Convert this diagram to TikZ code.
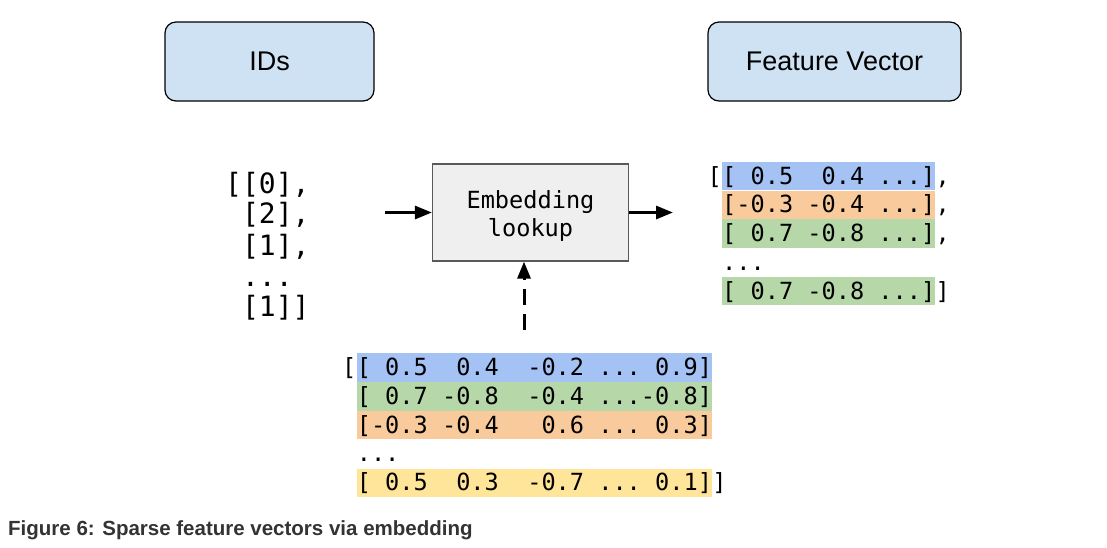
\documentclass[tikz,border=0pt]{standalone}
\usepackage{fontspec}
\setmainfont{Liberation Sans}
\newfontfamily\codefont{DejaVu Sans Mono}
\usetikzlibrary{positioning,arrows.meta}
\definecolor{boxblue}{HTML}{CFE2F3}
\definecolor{lookupgray}{HTML}{EFEFEF}
\definecolor{edgegray}{HTML}{595959}
\definecolor{rowblue}{HTML}{A4C2F4}
\definecolor{rowgreen}{HTML}{B6D7A8}
\definecolor{roworange}{HTML}{F9CB9C}
\definecolor{rowyellow}{HTML}{FFE599}
\definecolor{captiongray}{HTML}{333333}
\begin{document}
\begin{tikzpicture}[x=1pt,y=-1pt,
		title/.style={draw, line width=1.2pt, rounded corners=11pt, fill=boxblue, minimum width=#1, minimum height=79pt, font=\fontsize{27}{32}\selectfont},
		lookup/.style={draw=edgegray, line width=1.2pt, fill=lookupgray, minimum width=196pt, minimum height=97pt, align=center, font=\codefont\fontsize{23.6}{28.5}\selectfont},
		vec/.style={font=\codefont\fontsize{23.6}{28.4}\selectfont, inner sep=0pt, minimum height=28.4pt, text height=18pt, text depth=2pt},
		idline/.style={font=\codefont\fontsize{28}{30}\selectfont, inner sep=0pt, anchor=base west},
		flow/.style={line width=3pt, -{Triangle[length=17pt,width=13pt]}}]
		\useasboundingbox (0,0) rectangle (1107,547);

		\node[title=209pt] (idsbox) at (269.5, 61.5) {IDs};
		\node[title=253pt] (fvbox) at (834.5, 61.5) {Feature Vector};

		% ids
		\node[idline] (id1) at (225, 193) {[[0],};
		\node[idline] (id2) at (225, 223) {~[2],};
		\node[idline] (id3) at (225, 255) {~[1],};
		\node[idline] (id4) at (225, 286) {~...};
		\node[idline] (id5) at (225, 316) {~[1]]};

		\node[lookup] (emb) at (530.5, 212.5) {\rule{0pt}{25pt}Embedding\\lookup};

		% feature vectors
		\node[vec, fill=rowblue, anchor=west] (f1) at (722, 176) {[~0.5~~0.4~...]};
		\node[vec, fill=roworange, below=0pt of f1] (f2) {[-0.3~-0.4~...]};
		\node[vec, fill=rowgreen, below=0pt of f2] (f3) {[~0.7~-0.8~...]};
		\node[vec, anchor=north west] (f4) at (f3.south west) {...};
		\node[vec, fill=rowgreen, anchor=north west] (f5) at (f4.south west) {[~0.7~-0.8~...]};
		\node[vec, left=0pt of f1] (fopen) {[};
		\node[vec, right=0pt of f1] (c1) {,};
		\node[vec, right=0pt of f2] (c2) {,};
		\node[vec, right=0pt of f3] (c3) {,};
		\node[vec, right=0pt of f5] (fclose) {]};

		% embedding table
		\node[vec, fill=rowblue, anchor=west] (v1) at (356.6, 367.5) {[~0.5~~0.4~~-0.2~...~0.9]};
		\node[vec, fill=rowgreen, below=0pt of v1] (v2) {[~0.7~-0.8~~-0.4~...-0.8]};
		\node[vec, fill=roworange, below=0pt of v2] (v3) {[-0.3~-0.4~~~0.6~...~0.3]};
		\node[vec, anchor=north west] (v4) at (v3.south west) {...};
		\node[vec, fill=rowyellow, anchor=north west] (v5) at (v4.south west) {[~0.5~~0.3~~-0.7~...~0.1]};
		\node[vec, left=0pt of v1] (vopen) {[};
		\node[vec, right=0pt of v5] (vclose) {]};

		\coordinate (idsend) at (385, 212.5);
		\coordinate (fvstart) at (673, 212.5);
		\coordinate (tabletop) at (524, 330);
		\draw[flow] (idsend) -- (emb.west);
		\draw[flow] (emb.east) -- (fvstart);
		\draw[flow, dash pattern=on 16pt off 9pt] (tabletop) -- (tabletop |- emb.south);

		\node[anchor=base west, inner sep=0pt, text=captiongray, font=\bfseries\fontsize{20.5}{24}\selectfont] (caption) at (8, 535) {Figure 6: Sparse feature vectors via embedding};
	\end{tikzpicture}
\end{document}
